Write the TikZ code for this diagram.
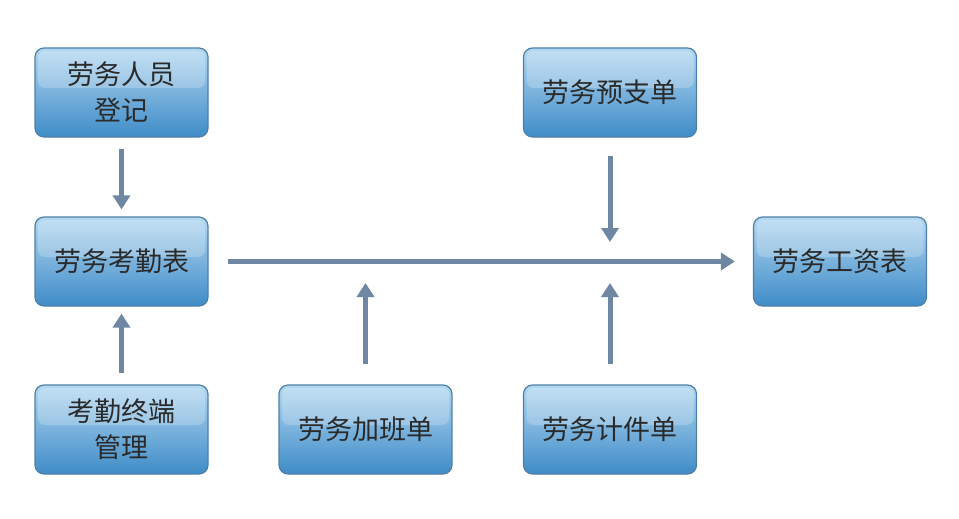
\documentclass[tikz,border=0pt]{standalone}
\usepackage{fontspec}
\setmainfont{Noto Sans CJK SC}
\usetikzlibrary{arrows.meta}

\begin{document}
\begin{tikzpicture}[x=1pt, y=-1pt]
    \definecolor{borderColour}{HTML}{4F7FA8}
    \definecolor{topColour}{HTML}{B3D8F1}
    \definecolor{bottomColour}{HTML}{3F8CC8}
    \definecolor{arrowColour}{HTML}{6F87A3}
    \definecolor{textColour}{HTML}{2A2A2A}

    \def\boxW{173}
    \def\boxH{89}

    \tikzset{
        stepbox/.style={draw=borderColour, line width=1.2pt, rounded corners=9pt,
            minimum width=\boxW, minimum height=\boxH, inner sep=0pt,
            top color=topColour, bottom color=bottomColour,
            text=textColour, align=center,
            font=\fontsize{27}{36}\selectfont,
            path picture={
                \fill[white, opacity=0.22, rounded corners=7pt]
                    ([xshift=3pt, yshift=-3pt]path picture bounding box.north west)
                    rectangle ([xshift=-3pt, yshift=-40pt]path picture bounding box.north east);
            }},
        flow/.style={draw=arrowColour, line width=5pt,
            -{Triangle[width=17pt, length=14pt]}}
    }

    \useasboundingbox (0,0) rectangle (959,519);

    % Draw boxes
    \node[stepbox] (reg)   at (121.5,92.5)  {劳务人员\\登记};
    \node[stepbox] (att)   at (121.5,261.5) {劳务考勤表};
    \node[stepbox] (term)  at (121.5,429.5) {考勤终端\\管理};
    \node[stepbox] (over)  at (365.5,429.5) {劳务加班单};
    \node[stepbox] (adv)   at (610,92.5)    {劳务预支单};
    \node[stepbox] (piece) at (610,429.5)   {劳务计件单};
    \node[stepbox] (pay)   at (840,261.5)   {劳务工资表};

    % Junction points on the main line
    \coordinate (jOver) at (365.5,262);
    \coordinate (jAdv)  at (610,262);

    % Draw arrows
    \draw[flow] ([yshift=-11pt]reg.south) -- ([yshift=7pt]att.north);
    \draw[flow] ([yshift=11pt]term.north) -- ([yshift=-7pt]att.south);
    \draw[flow] ([xshift=19pt]att.east) -- ([xshift=-18pt]pay.west);
    \draw[flow] ([yshift=-18pt]adv.south) -- ([yshift=20pt]jAdv);
    \draw[flow] ([yshift=20pt]piece.north) -- ([yshift=-21pt]jAdv);
    \draw[flow] ([yshift=20pt]over.north) -- ([yshift=-21pt]jOver);

\end{tikzpicture}
\end{document}
